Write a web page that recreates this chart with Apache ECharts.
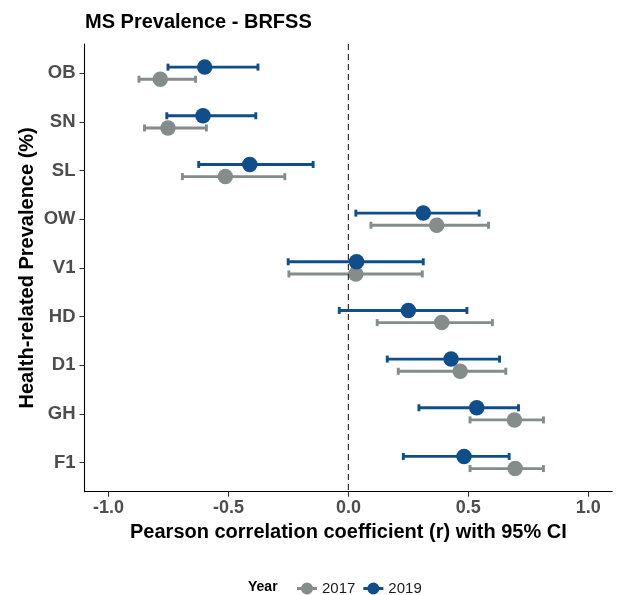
<!DOCTYPE html>
<html>
<head>
<meta charset="utf-8">
<script src="https://cdn.jsdelivr.net/npm/echarts@6/dist/echarts.min.js"></script>
<style>html,body{margin:0;padding:0;background:#fff;}#c{width:617px;height:595px;}</style>
</head>
<body>
<div id="c"></div>
<script>
const categories = ['OB','SN','SL','OW','V1','HD','D1','GH','F1'];
const r2017  = [-0.784,-0.752,-0.513, 0.368, 0.031, 0.389, 0.466, 0.692, 0.695];
const lo2017 = [-0.873,-0.850,-0.692, 0.094,-0.248, 0.120, 0.208, 0.507, 0.507];
const hi2017 = [-0.637,-0.592,-0.265, 0.584, 0.308, 0.600, 0.656, 0.813, 0.813];
const r2019  = [-0.599,-0.606,-0.411, 0.312, 0.034, 0.250, 0.428, 0.535, 0.482];
const lo2019 = [-0.752,-0.757,-0.624, 0.031,-0.251,-0.038, 0.162, 0.294, 0.229];
const hi2019 = [-0.377,-0.386,-0.147, 0.545, 0.312, 0.494, 0.630, 0.709, 0.670];
const xTicks = [-1.0,-0.5,0.0,0.5,1.0];
const refLine = [0];
const years = ['2017','2019'];

const colors = {'2017':'#848C8C','2019':'#104E8B'};
const dodge = {'2017':0.125,'2019':-0.125};
const FONT = '"Liberation Sans", Arial, sans-serif';
const Y_MIN = 0.4, Y_MAX = categories.length + 0.6;

function ciSeries(year, lo, hi){
  const data = categories.map((c,i)=>[lo[i],hi[i],i+1+dodge[year]]);
  const col = colors[year];
  return {
    type:'custom', name:'ci'+year, z:2, data:data,
    encode:{x:[0,1], y:2},
    renderItem:function(params, api){
      const a = api.coord([api.value(0), api.value(2)]);
      const b = api.coord([api.value(1), api.value(2)]);
      const h = 3.5;
      const st = {stroke:col, lineWidth:2.9};
      return {type:'group', children:[
        {type:'line', shape:{x1:a[0],y1:a[1],x2:b[0],y2:b[1]}, style:st},
        {type:'line', shape:{x1:a[0],y1:a[1]-h,x2:a[0],y2:a[1]+h}, style:st},
        {type:'line', shape:{x1:b[0],y1:b[1]-h,x2:b[0],y2:b[1]+h}, style:st}
      ]};
    }
  };
}
function ptSeries(year, r){
  return {
    type:'scatter', name:year, z:3,
    data: categories.map((c,i)=>[r[i], i+1+dodge[year]]),
    symbol:'circle', symbolSize:15.5,
    itemStyle:{color:colors[year], opacity:1}
  };
}
const yTickVals = categories.map((c,i)=>i+1);
const legendIcon = 'path://M0,4.6 L20,4.6 L20,7.4 L0,7.4 Z M4,6 A6,6 0 1 1 16,6 A6,6 0 1 1 4,6 Z';

const chart = echarts.init(document.getElementById('c'), null, {renderer:'canvas'});
chart.setOption({
  animation:false,
  backgroundColor:'#fff',
  textStyle:{fontFamily:FONT},
  title:{text:'MS Prevalence - BRFSS', left:80, top:7,
    textStyle:{fontFamily:FONT, fontSize:20, fontWeight:'bold', color:'#000'}},
  grid:{left:84.5, right:4.7, top:44, bottom:103.3},
  xAxis:{
    type:'value', min:-1.1, max:1.1,
    name:'Pearson correlation coefficient (r) with 95% CI',
    nameLocation:'middle', nameGap:31,
    nameTextStyle:{fontFamily:FONT, fontSize:20, fontWeight:'bold', color:'#000'},
    axisLine:{show:true, onZero:false, lineStyle:{color:'#000', width:1.1}},
    axisTick:{show:true, length:5, customValues:xTicks, lineStyle:{color:'#333', width:1.1}},
    axisLabel:{customValues:xTicks, margin:7, fontFamily:FONT, fontSize:18, fontWeight:'bold', color:'#4D4D4D',
      formatter:v=>Number(v).toFixed(1)},
    splitLine:{show:false}
  },
  yAxis:{
    type:'value', min:Y_MIN, max:Y_MAX, inverse:true,
    name:'Health-related Prevalence (%)',
    nameLocation:'middle', nameGap:47, nameMoveOverlap:false,
    nameTextStyle:{fontFamily:FONT, fontSize:20, fontWeight:'bold', color:'#000'},
    axisLine:{show:true, onZero:false, lineStyle:{color:'#000', width:1.1}},
    axisTick:{show:true, length:5, customValues:yTickVals, lineStyle:{color:'#333', width:1.1}},
    axisLabel:{customValues:yTickVals, margin:9, fontFamily:FONT, fontSize:18.5, fontWeight:'bold', color:'#4D4D4D',
      formatter:v=>categories[Math.round(v)-1]},
    splitLine:{show:false}
  },
  legend:{
    data:years, left:292, top:576, itemWidth:20, itemHeight:12, itemGap:8,
    icon:legendIcon, selectedMode:false,
    textStyle:{fontFamily:FONT, fontSize:15, color:'#1A1A1A'}
  },
  graphic:[{type:'text', left:248, top:580,
    style:{text:'Year', fontFamily:FONT, fontSize:14, fontWeight:'bold', fill:'#000'}}],
  series:[
    ciSeries('2017', lo2017, hi2017),
    ciSeries('2019', lo2019, hi2019),
    ptSeries('2017', r2017),
    ptSeries('2019', r2019),
    {type:'custom', name:'zero', z:10, silent:true, data:refLine.map(v=>[v]),
      encode:{x:0},
      renderItem:function(params, api){
        const a = api.coord([api.value(0), Y_MIN]);
        const b = api.coord([api.value(0), Y_MAX]);
        return {type:'line', shape:{x1:a[0],y1:a[1],x2:b[0],y2:b[1]},
          style:{stroke:'#333', lineWidth:1.2, lineDash:[6,4]}};
      }}
  ]
});
</script>
</body>
</html>
